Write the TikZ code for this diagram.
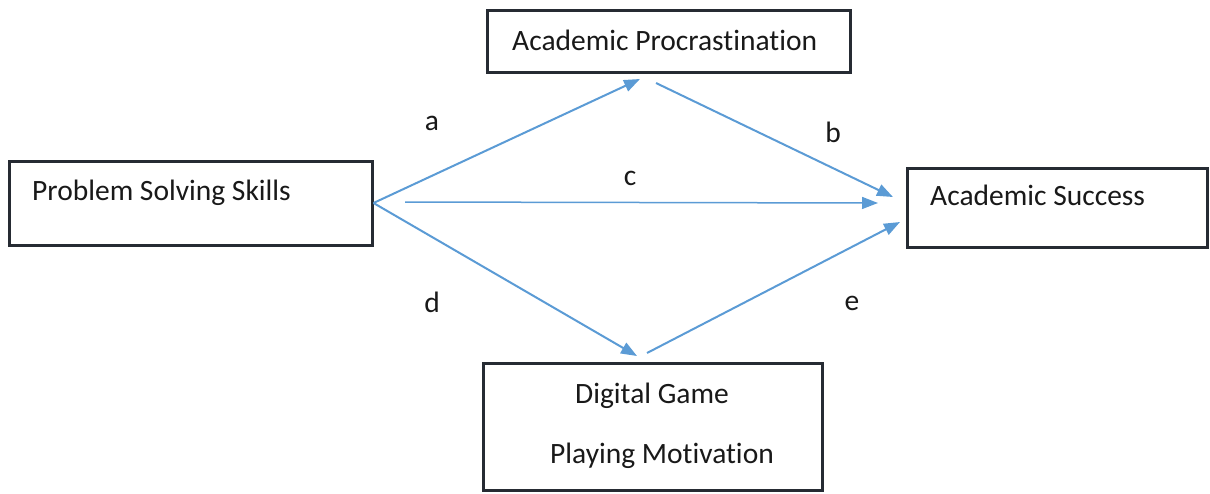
\documentclass[tikz,border=0pt]{standalone}
\usepackage{fontspec}
\setmainfont{Carlito}[Ligatures=NoCommon]
\usetikzlibrary{arrows.meta,positioning}
\definecolor{pathblue}{HTML}{5B9BD5}
\definecolor{boxline}{HTML}{262B33}
\tikzset{
  box/.style={draw=boxline,line width=3pt,fill=white},
  txt/.style={anchor=base west,inner sep=0pt,text=black!90},
  lbl/.style={anchor=base,inner sep=0pt,text=black!90},
  path/.style={draw=pathblue,line width=2pt,-{Triangle[length=16pt,width=12pt]}}
}
\begin{document}
\begin{tikzpicture}[x=1pt,y=-1pt,font=\fontsize{29.5}{35}\selectfont]
\useasboundingbox (0,0) rectangle (1210,493);
\node[box,minimum width=363pt,minimum height=84pt] (psk) at (190.5,203) {};
\node[box,minimum width=363pt,minimum height=62pt] (ap) at (668.5,41) {};
\node[box,minimum width=300pt,minimum height=79pt] (as) at (1057,207.5) {};
\node[box,minimum width=339pt,minimum height=127pt] (dgpm) at (652.5,426.5) {};
\node[txt] (psk-t) at (32,200) {Problem Solving Skills};
\node[txt] (ap-t) at (512,50) {Academic Procrastination};
\node[txt] (as-t) at (930,205) {Academic Success};
\node[lbl] (dgpm-t1) at (652,403) {Digital Game};
\node[lbl] (dgpm-t2) at (662,463) {Playing Motivation};
\coordinate (a-end) at (640,79);
\coordinate (b-start) at (656,83);
\coordinate (b-end) at (893,197);
\coordinate (c-start) at (405,202);
\coordinate (c-end) at (878,203);
\coordinate (d-end) at (637,356);
\coordinate (e-start) at (647,353);
\coordinate (e-end) at (900,222);
\draw[path] (psk.east) -- (a-end);
\draw[path] (b-start) -- (b-end);
\draw[path,line width=1.5pt] (c-start) -- (c-end);
\draw[path] (psk.east) -- (d-end);
\draw[path] (e-start) -- (e-end);
\node[lbl] (a) at (432,130) {a};
\node[lbl] (b) at (833,142) {b};
\node[lbl] (c) at (630,185) {c};
\node[lbl] (d) at (432,312) {d};
\node[lbl] (e) at (852,310) {e};
\end{tikzpicture}
\end{document}
